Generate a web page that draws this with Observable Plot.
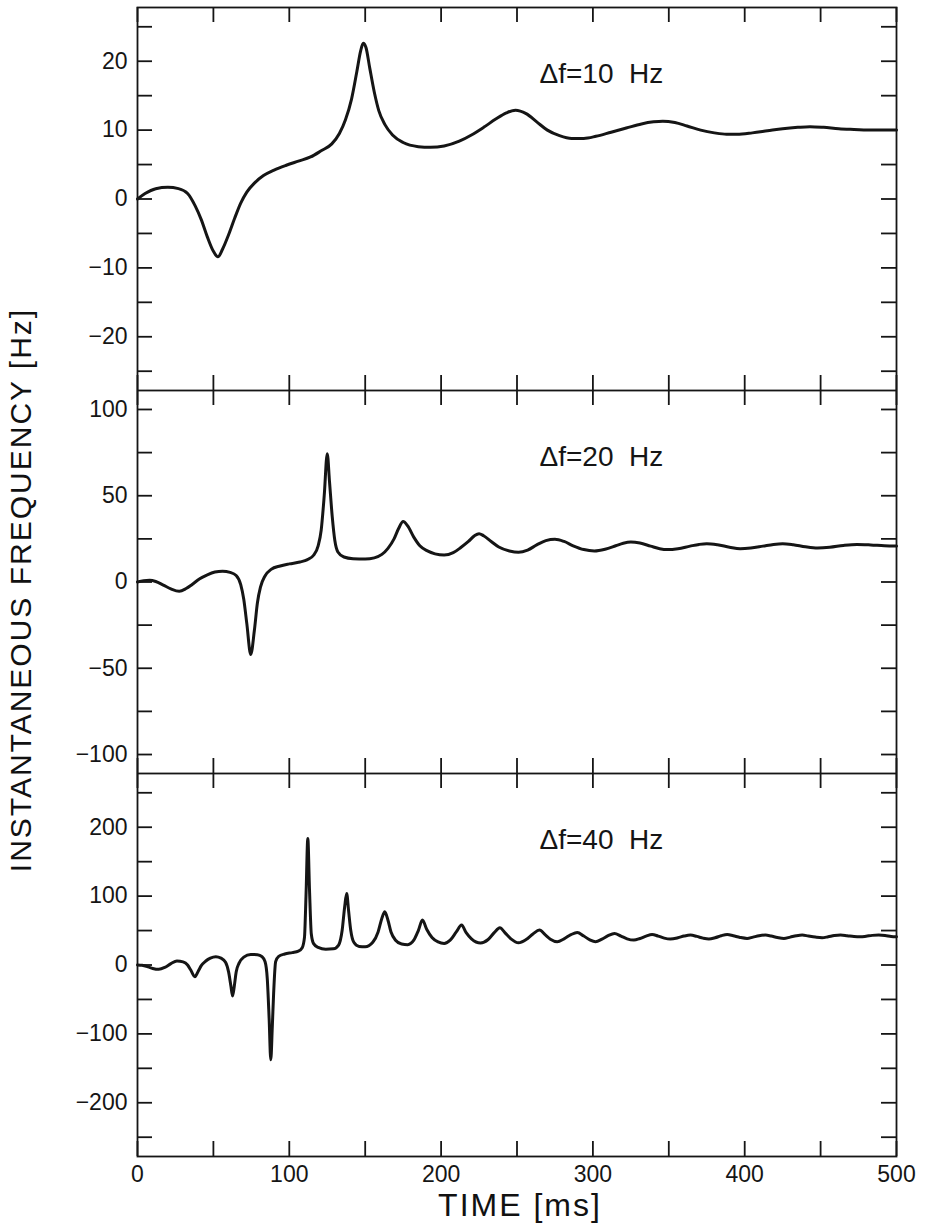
<!DOCTYPE html>
<html><head><meta charset="utf-8">
<script src="https://cdn.jsdelivr.net/npm/d3@7"></script>
<script src="https://cdn.jsdelivr.net/npm/@observablehq/plot@0.6"></script>
<style>
body{margin:0;background:#fff;}
#chart{position:relative;width:925px;height:1227px;font-family:"Liberation Sans",Arial,sans-serif;color:#111;background:#fff;}
#chart svg{display:block;}
.ytitle{position:absolute;left:21px;top:590px;transform:translate(-50%,-50%) rotate(-90deg);font-size:30px;letter-spacing:2px;white-space:nowrap;line-height:1;}
.xtitle{position:absolute;left:520px;top:1189px;transform:translateX(-50%);font-size:32px;letter-spacing:2px;white-space:nowrap;line-height:1;}
</style></head>
<body><div id="chart"></div>
<script>
// x axis (time, ms)
const xTicks = [0,50,100,150,200,250,300,350,400,450,500];
const xLabels = [0,100,200,300,400,500];

// panel 1: Δf = 10 Hz
const note10 = "Δf=10  Hz";
const yTicks10 = [-25,-20,-15,-10,-5,0,5,10,15,20,25];
const yLabels10 = [-20,-10,0,10,20];
const t10 = [0,5,12,20,27,33,38,42,46,50,53,56,60,64,68,72,77,83,90,98,106,114,121,128,133,137,141,144.5,147,148.7,150.5,153,156,159,163,168,175,185,193,202,212,220,228,236,243,249,256,263,270,278,286,294,302,312,322,332,340,346,354,362,371,380,388,395,405,415,425,435,443,452,462,472,485,500];
const f10 = [0,0.8,1.5,1.7,1.5,0.8,-1,-3,-5.5,-7.6,-8.4,-7.3,-5.2,-2.8,-0.6,1,2.3,3.4,4.2,4.9,5.5,6.1,7,8,9.5,11.5,14.5,18.5,21.5,22.6,22,19,15.5,12.8,10.8,9.3,8.2,7.6,7.5,7.7,8.4,9.3,10.4,11.6,12.5,12.9,12.4,11.2,10,9.2,8.8,8.8,9.1,9.7,10.3,10.9,11.2,11.3,11.1,10.6,10,9.6,9.4,9.4,9.6,9.9,10.2,10.4,10.5,10.4,10.2,10.1,10,10];

// panel 2: Δf = 20 Hz
const note20 = "Δf=20  Hz";
const yTicks20 = [-100,-75,-50,-25,0,25,50,75,100];
const yLabels20 = [-100,-50,0,50,100];
const t20 = [0,4,8,12,17,22,27.5,32,36,41,46,51,56,61,65,68,70,72,74.6,77,79,81,84,88,94,100,107,112,116,119,121,123,125,126.5,128.3,130,132,136,142,150,156,161,165,169,172,175,178,182,186,191,196,202,208,213,218,222,225,228,233,238,245,251,257,263,269,275,281,287,294,301,308,315,320,325,331,338,344,349,356,364,370,375,382,390,397,404,412,419,425,432,440,448,456,465,474,483,492,500];
const f20 = [0,0.8,1,0.3,-1.8,-4,-5.4,-3.8,-1.4,1.9,4.2,5.8,6.3,5.6,3.8,-1.5,-10,-24,-42,-28,-12,-3,3.5,7.3,9.3,10.5,11.6,13,15.5,21,30,50,74.4,58,37.7,24,17.4,14.5,13.5,13.3,14,16,19.5,25,31,35,32.5,26,21,18,16.3,15.6,17,20,23.5,26.8,28,26.8,23.5,20.3,18,17.2,18.5,21.5,24,24.8,23.5,21,18.8,18,19,21,22.5,23.2,22.6,20.8,19.3,18.8,19.3,20.8,21.8,22.2,21.6,20.2,19.3,19.7,20.8,21.8,22.2,21.6,20.4,19.7,20.1,21.2,21.8,21.5,21,20.8];

// panel 3: Δf = 40 Hz
const note40 = "Δf=40  Hz";
const yTicks40 = [-250,-200,-150,-100,-50,0,50,100,150,200,250];
const yLabels40 = [-200,-100,0,100,200];
const t40 = [0,3,7,10,14,18,22,26,30,33,35,37.8,40,42,45,48,51.6,55,58,60,61.5,62.6,63.8,65,67,70,74.6,79,82,84,85.5,86.7,87.8,88.8,89.7,91,93,97,102,106,108.5,110,111,112.2,113.3,114.5,116,119,124,129,132.5,134.8,136.5,137.8,139,140.5,142.5,146,150,155,158.5,161,162.9,165,167,170,174,178,182,185,187.7,190.5,194,198,202,206,210,213.5,216.5,220,226,231,235,238.7,242,246,251,256,260.5,264.8,268.5,272,276.5,281,285.5,289.7,294,298,301.7,306,310,314.2,318.5,322.5,327,331,335,339,343,347,351,356,360,364.3,368.5,372.5,376.4,380.5,384.5,388.5,392.5,397,401.6,405.5,409.5,413.7,417.5,421.5,425.8,430,434,437.9,442,446.5,451,455,459,463.1,467.5,472,476.3,480,484,488.3,492.5,496.5,500];
const f40 = [0,-0.5,-2.8,-5,-6.3,-3.5,2,5.8,4.5,0,-7,-17,-9,-1,5.8,10,12,10,4,-10,-30,-45,-30,-10,3,11.5,15.4,15,12,5,-20,-77,-137.7,-90,-40,4.8,12.5,16,18,20,25,40,100,183.5,110,45,31,25.5,23,23.5,29,50,85,103.8,80,50,33,27,26.5,33,48,68,77.2,65,48,36,30.5,29.5,36,50,65.2,52,40,33.5,31.3,36,48,58,47,38,32,37,47,54,47,38,32.3,37,45,50.7,44,37.5,33.8,38,44,47.2,42,36.5,33.8,37.5,42.5,45.8,42,38,36.2,38.5,42,44.4,42,39,37.7,39.5,42,43.5,41.5,39,37.7,39.5,42.5,44.4,42.5,40,38.6,40.5,42.5,43.5,42,40,38.6,40.5,42.5,43.5,42,40.5,39.6,41,42.7,43.5,42.5,41.3,41,41.8,43,43.5,42.8,41.5,41];

const W = 925, ML = 137, MR = 29, IH = 383, IW = W - ML - MR;
const INK = "#151515";
const FONT = "'Liberation Sans', Arial, sans-serif";

function panel({t, f, domain, ticks, labels, note, top, bottom, showX}) {
  const rows = t.map((x, i) => ({time: x, freq: f[i]}));
  const marks = [
    Plot.frame({stroke: INK, strokeWidth: 1.8}),
    Plot.tickY(ticks, {y: d => d, insetRight: IW - 15, stroke: INK, strokeWidth: 1.8}),
    Plot.tickY(ticks, {y: d => d, insetLeft: IW - 15, stroke: INK, strokeWidth: 1.8}),
    Plot.tickX(xTicks, {x: d => d, insetBottom: IH - 15, stroke: INK, strokeWidth: 1.8}),
    Plot.tickX(xTicks, {x: d => d, insetTop: IH - 15, stroke: INK, strokeWidth: 1.8}),
    Plot.axisY({ticks: labels, tickSize: 0, tickPadding: 10, fontSize: 23, label: null, fill: INK}),
    Plot.line(rows, {x: "time", y: "freq", curve: "monotone-x", stroke: INK, strokeWidth: 3, strokeLinejoin: "round"}),
    Plot.text([note], {text: d => d, frameAnchor: "top-left", dx: 402, dy: 56, lineAnchor: "top", textAnchor: "start", fontSize: 28, fill: INK, style: "letter-spacing:3px"})
  ];
  if (showX) marks.push(Plot.axisX({ticks: xLabels, tickSize: 0, tickPadding: 9, fontSize: 23, label: null, fill: INK}));
  return Plot.plot({
    width: W, height: top + IH + bottom,
    marginLeft: ML, marginRight: MR, marginTop: top, marginBottom: bottom,
    x: {domain: [0, 500], axis: null},
    y: {domain, axis: null},
    style: {fontFamily: FONT, background: "transparent", color: INK},
    marks
  });
}

const root = document.getElementById("chart");
root.append(panel({t: t10, f: f10, domain: [-27.8, 27.8], ticks: yTicks10, labels: yLabels10, note: note10, top: 7, bottom: 0, showX: false}));
root.append(panel({t: t20, f: f20, domain: [-111, 111], ticks: yTicks20, labels: yLabels20, note: note20, top: 0, bottom: 0, showX: false}));
root.append(panel({t: t40, f: f40, domain: [-278, 278], ticks: yTicks40, labels: yLabels40, note: note40, top: 0, bottom: 40, showX: true}));

const yt = document.createElement("div");
yt.className = "ytitle";
yt.textContent = "INSTANTANEOUS FREQUENCY [Hz]";
root.append(yt);
const xt = document.createElement("div");
xt.className = "xtitle";
xt.textContent = "TIME [ms]";
root.append(xt);
</script>
</body></html>
